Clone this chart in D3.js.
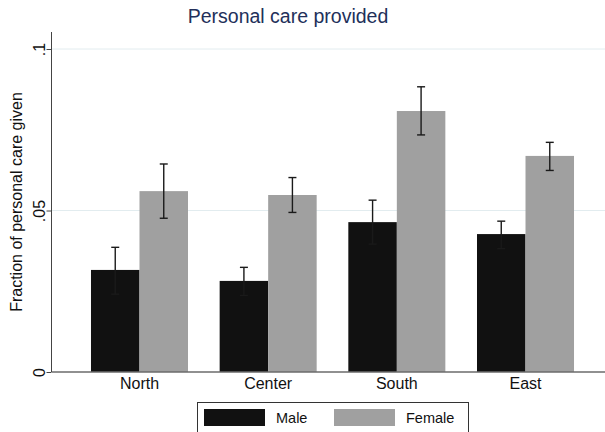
<!DOCTYPE html>
<html>
<head>
<meta charset="utf-8">
<script src="https://cdn.jsdelivr.net/npm/d3@7"></script>
<style>
  html, body { margin: 0; padding: 0; background: #fff; }
  svg { display: block; font-family: "Liberation Sans", Arial, Helvetica, sans-serif; }
</style>
</head>
<body>
<svg id="chart" width="605" height="432"></svg>
<script>
// Regions and groups
const regions = ["North", "Center", "South", "East"];
const groups = ["Male", "Female"];

// Mean fraction of personal care given, with confidence interval bounds
const maleMean   = [0.0316, 0.0282, 0.0464, 0.0427];
const maleLow    = [0.0241, 0.0237, 0.0396, 0.0382];
const maleHigh   = [0.0386, 0.0324, 0.0532, 0.0467];
const femaleMean = [0.0560, 0.0548, 0.0808, 0.0669];
const femaleLow  = [0.0476, 0.0494, 0.0734, 0.0624];
const femaleHigh = [0.0644, 0.0602, 0.0883, 0.0711];

const yTicks = [0, 0.05, 0.1];
const yTickLabels = ["0", ".05", ".1"];

const colors = { Male: "#111111", Female: "#a0a0a0" };

const rows = regions.map((r, i) => ({
  region: r,
  bars: [
    { group: "Male",   mean: maleMean[i],   lo: maleLow[i],   hi: maleHigh[i] },
    { group: "Female", mean: femaleMean[i], lo: femaleLow[i], hi: femaleHigh[i] }
  ]
}));

const svg = d3.select("#chart");
const plotLeft = 52, plotRight = 605, plotTop = 32, plotBottom = 372;

const y = d3.scaleLinear().domain([0, 0.1]).range([plotBottom, 49]);
const x0 = d3.scaleBand().domain(regions).range([plotLeft, 613])
  .paddingInner(0.246).paddingOuter(0.303);
const x1 = d3.scaleBand().domain(groups).range([0, x0.bandwidth()]).padding(0);

// Gridlines
svg.append("g").selectAll("line")
  .data(yTicks.filter(t => t > 0))
  .join("line")
  .attr("x1", plotLeft).attr("x2", plotRight)
  .attr("y1", d => y(d)).attr("y2", d => y(d))
  .attr("stroke", "#e2ecef").attr("stroke-width", 1);

// Bars
const g = svg.append("g").selectAll("g")
  .data(rows).join("g")
  .attr("transform", d => `translate(${x0(d.region)},0)`);

g.selectAll("rect")
  .data(d => d.bars).join("rect")
  .attr("x", d => x1(d.group))
  .attr("width", x1.bandwidth())
  .attr("y", d => y(d.mean))
  .attr("height", d => y(0) - y(d.mean))
  .attr("fill", d => colors[d.group]);

// Error bars
const eb = g.selectAll("g.err")
  .data(d => d.bars).join("g").attr("class", "err")
  .attr("stroke", "#1a1a1a").attr("stroke-width", 1.4);
eb.append("line")
  .attr("x1", d => x1(d.group) + x1.bandwidth() / 2)
  .attr("x2", d => x1(d.group) + x1.bandwidth() / 2)
  .attr("y1", d => y(d.lo)).attr("y2", d => y(d.hi));
eb.append("line")
  .attr("x1", d => x1(d.group) + x1.bandwidth() / 2 - 4)
  .attr("x2", d => x1(d.group) + x1.bandwidth() / 2 + 4)
  .attr("y1", d => y(d.hi)).attr("y2", d => y(d.hi));
eb.append("line")
  .attr("x1", d => x1(d.group) + x1.bandwidth() / 2 - 4)
  .attr("x2", d => x1(d.group) + x1.bandwidth() / 2 + 4)
  .attr("y1", d => y(d.lo)).attr("y2", d => y(d.lo));

// X baseline
svg.append("line")
  .attr("x1", plotLeft).attr("x2", plotRight)
  .attr("y1", y(0)).attr("y2", y(0))
  .attr("stroke", "#6b6b6b").attr("stroke-width", 1.5);

// X category labels
svg.append("g").selectAll("text")
  .data(regions).join("text")
  .attr("x", d => x0(d) + x0.bandwidth() / 2)
  .attr("y", 389)
  .attr("text-anchor", "middle")
  .attr("font-size", 16)
  .attr("fill", "#111")
  .text(d => d);

// Y axis
const yAxis = d3.axisLeft(y).tickValues(yTicks)
  .tickFormat((d, i) => yTickLabels[i]).tickSize(5).tickSizeOuter(0);
const ya = svg.append("g").attr("transform", `translate(${plotLeft - 0.5},0)`).call(yAxis);
ya.select(".domain").attr("d", `M0,${plotTop}V${plotBottom}`).attr("stroke", "#444");
ya.selectAll(".tick line").attr("stroke", "#444");
ya.selectAll(".tick text")
  .attr("font-size", 16)
  .attr("font-family", "Liberation Sans, Arial, sans-serif")
  .attr("fill", "#111")
  .attr("x", null).attr("dy", null)
  .attr("text-anchor", "middle")
  .attr("transform", "translate(-7,0) rotate(-90)")
  .attr("y", 0);

// Y axis title
svg.append("text")
  .attr("transform", `translate(22,${(plotTop + plotBottom) / 2}) rotate(-90)`)
  .attr("text-anchor", "middle")
  .attr("font-size", 16)
  .attr("fill", "#111")
  .text("Fraction of personal care given");

// Title
svg.append("text")
  .attr("x", 288).attr("y", 23)
  .attr("text-anchor", "middle")
  .attr("font-size", 19.5)
  .attr("fill", "#22305a")
  .text("Personal care provided");

// Legend
const legend = svg.append("g");
legend.append("rect")
  .attr("x", 197.5).attr("y", 402.5)
  .attr("width", 271).attr("height", 34)
  .attr("fill", "#fff").attr("stroke", "#333").attr("stroke-width", 1);
const legendX = { Male: 204, Female: 334 };
const li = legend.selectAll("g.item").data(groups).join("g").attr("class", "item");
li.append("rect")
  .attr("x", d => legendX[d]).attr("y", 409)
  .attr("width", 61).attr("height", 17)
  .attr("fill", d => colors[d]);
li.append("text")
  .attr("x", d => legendX[d] + 72).attr("y", 423)
  .attr("font-size", 14.5)
  .attr("fill", "#111")
  .text(d => d);
</script>
</body>
</html>
